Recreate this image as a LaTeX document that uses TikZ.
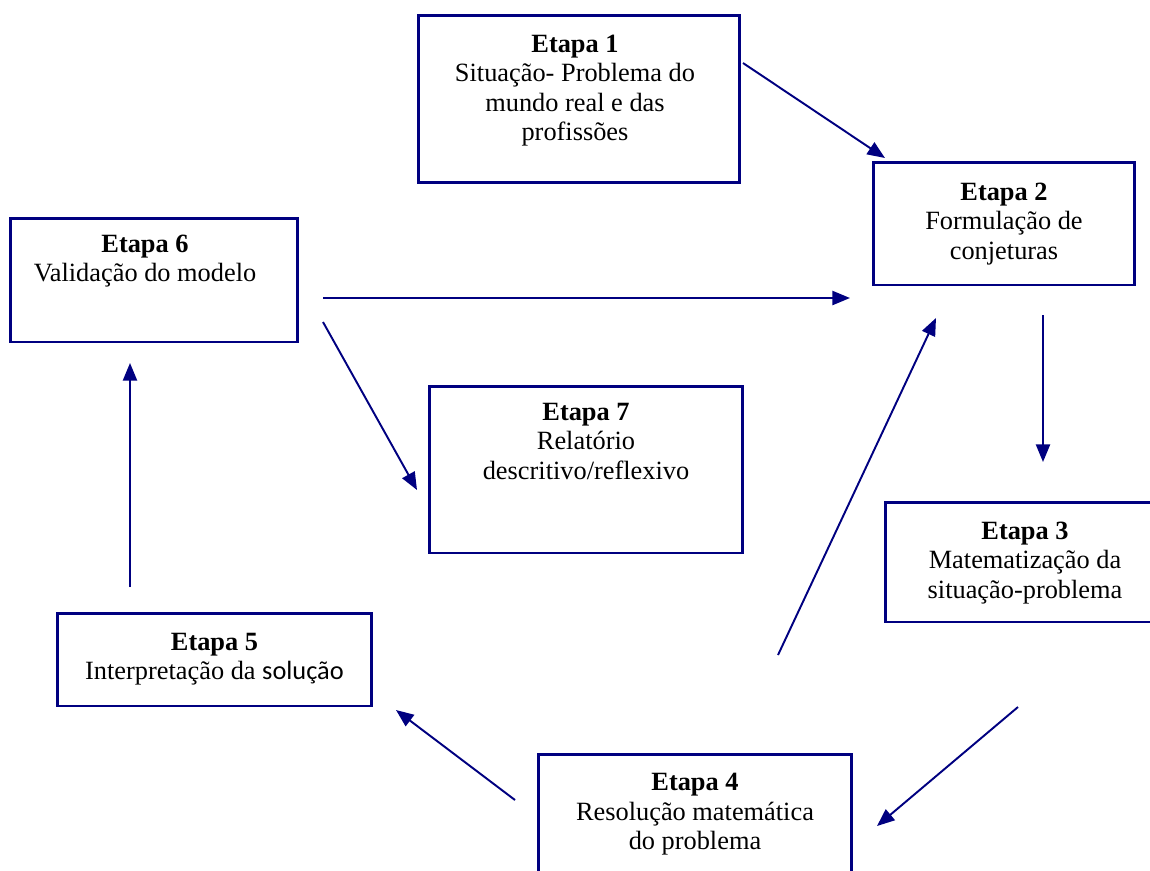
\documentclass[tikz,border=0pt]{standalone}
\usepackage{fontspec}
\setmainfont{Liberation Serif}
\newfontfamily\calibrifont{Carlito}
\usepackage{xcolor}
\usetikzlibrary{arrows.meta, positioning}

\definecolor{navyblue}{RGB}{0,0,128}

\begin{document}
\begin{tikzpicture}[
  x=0.02cm, y=-0.02cm,
  etapa/.style={draw=navyblue, line width=1.7pt, rectangle, inner sep=0pt},
  txt/.style={align=center, inner sep=0pt, font=\fontsize{15}{16.8}\selectfont},
  arr/.style={-{Triangle[length=10pt,width=8pt]}, draw=navyblue, fill=navyblue, line width=1.1pt}
]
\useasboundingbox (0,0) rectangle (1150,870);

%% Boxes
\node[etapa, minimum width=6.44cm, minimum height=3.36cm] (b1) at (579,99)    {};
\node[etapa, minimum width=5.24cm, minimum height=2.46cm] (b2) at (1004,223.5) {};
\node[etapa, minimum width=5.60cm, minimum height=2.40cm] (b3) at (1025,562)   {};
\node[etapa, minimum width=6.28cm, minimum height=2.50cm] (b4) at (695,817)    {};
\node[etapa, minimum width=6.30cm, minimum height=1.86cm] (b5) at (214.5,659.5) {};
\node[etapa, minimum width=5.76cm, minimum height=2.48cm] (b6) at (154,280)    {};
\node[etapa, minimum width=6.28cm, minimum height=3.34cm] (b7) at (586,469.5)  {};

%% Texts
\node[txt, below=0.42cm of b1.north, xshift=-0.08cm] (t1)
  {\textbf{Etapa 1}\\Situação- Problema do\\mundo real e das\\profissões};
\node[txt, below=0.44cm of b2.north] (t2)
  {\textbf{Etapa 2}\\Formulação de\\conjeturas};
\node[txt, below=0.42cm of b3.north] (t3)
  {\textbf{Etapa 3}\\Matematização da\\situação-problema};
\node[txt, below=0.40cm of b4.north] (t4)
  {\textbf{Etapa 4}\\Resolução matemática\\do problema};
\node[txt, below=0.42cm of b5.north] (t5)
  {\textbf{Etapa 5}\\Interpretação da {\calibrifont solução}};
\node[txt, below=0.36cm of b6.north, xshift=-0.18cm] (t6)
  {\textbf{Etapa 6}\\Validação do modelo};
\node[txt, below=0.36cm of b7.north] (t7)
  {\textbf{Etapa 7}\\Relatório\\descritivo/reflexivo};

%% Arrow ends
\coordinate (e1out) at (743,63);   \coordinate (e2in)  at (885,158);
\coordinate (e6out) at (323,298);  \coordinate (e2inw) at (850,298);
\coordinate (e6sw)  at (323,322);  \coordinate (e7in)  at (417,490);
\coordinate (e2out) at (1043,315); \coordinate (e3in)  at (1043,462);
\coordinate (e4up)  at (778,655);  \coordinate (e2ins) at (936,318);
\coordinate (e3out) at (1018,707); \coordinate (e4in)  at (877,826);
\coordinate (e4out) at (515,800);  \coordinate (e5in)  at (396,710);
\coordinate (e5out) at (130,587);  \coordinate (e6in)  at (130,363);

%% Arrows
\draw[arr] (e1out) -- (e2in);
\draw[arr] (e6out) -- (e2inw);
\draw[arr] (e6sw)  -- (e7in);
\draw[arr] (e2out) -- (e3in);
\draw[arr] (e4up)  -- (e2ins);
\draw[arr] (e3out) -- (e4in);
\draw[arr] (e4out) -- (e5in);
\draw[arr] (e5out) -- (e6in);

\end{tikzpicture}
\end{document}
